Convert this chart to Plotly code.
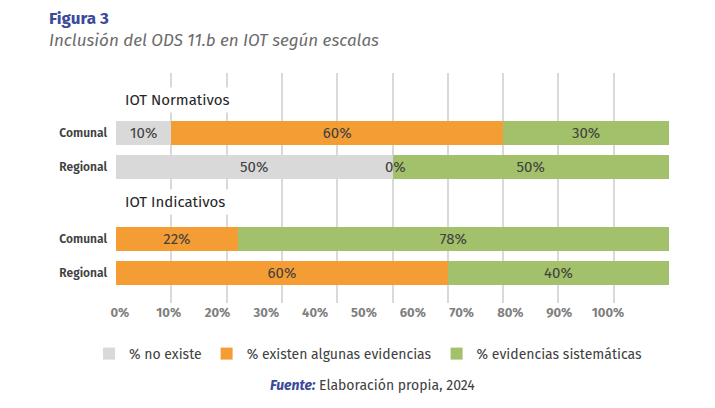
import plotly.graph_objects as go

# ---- data ----
categories = ["Comunal", "Regional", "Comunal", "Regional"]
group_titles = ["IOT Normativos", "IOT Indicativos"]
no_existe = [10, 50, 0, 0]
algunas = [60, 0, 22, 60]
sistematicas = [30, 50, 78, 40]
series_names = ["% no existe", "% existen algunas evidencias", "% evidencias sistemáticas"]
tick_vals = [0, 10, 20, 30, 40, 50, 60, 70, 80, 90, 100]
tick_labels = [f"{v}%" for v in tick_vals]

# ---- layout constants ----
row_pos = [0, 1, 3.12, 4.12]
group_title_pos = [-0.97, 2.03]
colors = ["#D9D9D9", "#F59D35", "#A3C16A"]
FONT = "Fira Sans, Open Sans, Noto Sans, sans-serif"
TXT = "#404040"
BLUE = "#3B4A9B"

W, H = 715, 408
ML, MR, MT, MB = 108, 54, 65, 113
pw, ph = W - ML - MR, H - MT - MB

def px(x):  # page pixel -> paper x
    return (x - 8 - ML) / pw

def py(y):  # page pixel -> paper y
    return 1 - (y - 8 - MT) / ph

fig = go.Figure()
series = [no_existe, algunas, sistematicas]
for name, vals, col in zip(series_names, series, colors):
    fig.add_trace(go.Bar(
        y=row_pos, x=vals, orientation="h", name=name,
        marker=dict(color=col, line=dict(width=0)),
        width=0.71,
        text=[f"{v}%" if v > 0 else "" for v in vals],
        textposition="inside", insidetextanchor="middle",
        textfont=dict(family=FONT, size=15, color=TXT),
        hoverinfo="skip",
    ))

annotations = []
# label for zero-width segment, placed at its stacked position
for i in range(len(categories)):
    if algunas[i] == 0 and no_existe[i] > 0:
        annotations.append(dict(x=no_existe[i], y=row_pos[i], xref="x", yref="y",
                                text=f"{algunas[i]}%", showarrow=False, xanchor="center", xshift=3,
                                font=dict(family=FONT, size=15, color=TXT)))

for t, p in zip(group_titles, group_title_pos):
    annotations.append(dict(x=0, y=p, xref="x", yref="y", text=t, showarrow=False,
                            xanchor="left", xshift=5, bgcolor="white", borderpad=3,
                            font=dict(family=FONT, size=15, color="#262626")))

annotations += [
    dict(x=px(47), y=py(18), xref="paper", yref="paper", text="<b>Figura 3</b>",
         showarrow=False, xanchor="left", yanchor="middle",
         font=dict(family=FONT, size=17, color=BLUE)),
    dict(x=px(47), y=py(41), xref="paper", yref="paper",
         text="<i>Inclusión del ODS 11.b en IOT según escalas</i>", showarrow=False,
         xanchor="left", yanchor="middle", font=dict(family=FONT, size=17, color="#6B6B6B")),
    dict(x=px(372), y=py(385), xref="paper", yref="paper",
         text=f"<b><i><span style='color:{BLUE}'>Fuente:</span></i></b> Elaboración propia, 2024",
         showarrow=False, xanchor="center", yanchor="middle",
         font=dict(family=FONT, size=14, color=TXT)),
]

fig.update_layout(
    width=W, height=H, barmode="stack",
    margin=dict(l=ML, r=MR, t=MT, b=MB, pad=0),
    paper_bgcolor="white", plot_bgcolor="white",
    font=dict(family=FONT, color=TXT),
    annotations=annotations,
    showlegend=True,
    legend=dict(orientation="h", x=px(368), xanchor="center", y=py(338), yanchor="top",
                font=dict(family=FONT, size=14, color=TXT), traceorder="normal",
                itemwidth=30, itemsizing="constant", tracegroupgap=0),
    xaxis=dict(range=[0, 100], tickvals=tick_vals, showticklabels=False,
               showgrid=True, gridcolor="#D9D9D9", gridwidth=1.5, zeroline=False,
               showline=False, fixedrange=True),
    xaxis2=dict(overlaying="x", anchor="y", side="bottom", range=[-0.8, 112.5],
                tickvals=tick_vals, ticktext=tick_labels, showgrid=False, zeroline=False,
                tickfont=dict(family=FONT, size=13, color="#7F7F7F", weight="bold"),
                ticks="", ticklabelstandoff=0),
    yaxis=dict(range=[5.0, -1.76], tickvals=row_pos, ticktext=categories,
               tickfont=dict(family=FONT, size=12, color=TXT, weight=600),
               showgrid=False, zeroline=False, ticks="", ticklabelstandoff=8),
)
# invisible trace to anchor the tick-label axis
fig.add_trace(go.Scatter(x=[0], y=[0], xaxis="x2", mode="markers",
                         marker=dict(opacity=0), showlegend=False, hoverinfo="skip"))
fig.write_html("out.html")
